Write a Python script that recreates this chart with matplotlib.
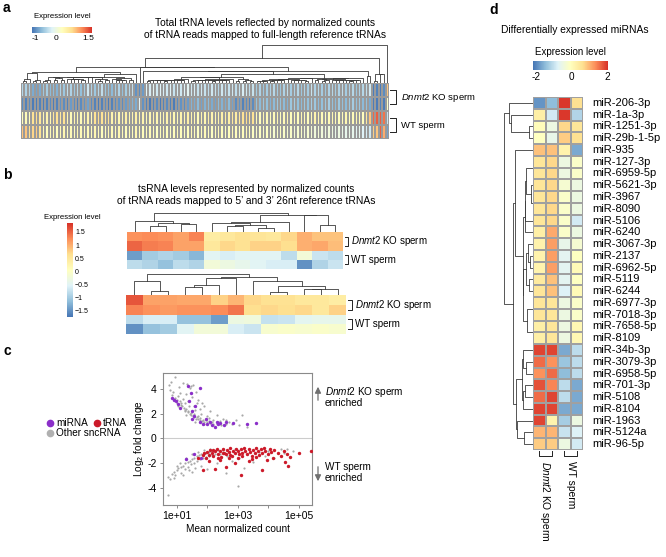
import numpy as np
import matplotlib
matplotlib.use("Agg")
import matplotlib.pyplot as plt
from matplotlib.colors import LinearSegmentedColormap, Normalize
from matplotlib.cm import ScalarMappable
from matplotlib.lines import Line2D

plt.rcParams['font.family'] = ['Liberation Sans', 'DejaVu Sans']
plt.rcParams['mathtext.fontset'] = 'custom'
plt.rcParams['mathtext.rm'] = 'Liberation Sans'
plt.rcParams['mathtext.it'] = 'Liberation Sans:italic'

# ---------------- data ----------------
# panel a: total tRNA levels, 107 tRNAs x 4 samples (KO1, KO2, WT1, WT2)
a_ko1 = ([-0.45, -0.5, -0.5, -0.8, -0.85, -0.8, -0.6, -0.55, -0.7, -0.7,
          -0.75, -0.5, -0.6, -0.4, -0.5, -0.6, -0.45, -0.65, -0.55, -0.3,
          -0.5, -0.6, -0.45, -0.4, -0.6, -0.65, -0.7, -0.55, -0.5, -0.65,
          -0.55, -0.45, -0.4, -0.95, -1.0, -0.9]
         + [-0.2, -0.25, -0.15, -0.3, -0.2, -0.25, -0.3, -0.2, -0.35, -0.25,
            -0.3, -0.2, -0.15, -0.3, -0.25, -0.35, -0.3]
         + [-0.35, -0.4, -0.3, -0.35, -0.45, -0.3, -0.4, -0.35, -0.3, -0.4,
            -0.35, -0.25, -0.3, -0.4, -0.35]
         + [-0.55, -0.5, -0.6, -0.55, -0.5, -0.45, -0.55, -0.6, -0.5, -0.4,
            -0.55, -0.5, -0.45, -0.6, -0.5, -0.55, -0.35, -0.5, -0.45, -0.55,
            -0.6, -0.5, -0.45, -0.55, -0.5, -0.4, -0.55, -0.5, -0.45, -0.6,
            -0.5, -0.45, -0.4, -0.3]
         + [-1.1, -1.05, -1.1, -1.0] + [0.9])
a_ko2 = ([-1.0, -1.05, -1.0, -1.1, -1.1, -1.05, -1.1, -1.05, -1.0, -1.1,
          -1.05, -0.95, -1.0, -1.05, -0.9, -1.0, -1.05, -1.0, -0.95, -0.85,
          -1.0, -1.05, -1.1, -1.05, -1.0, -1.1, -1.05, -1.0, -0.95, -1.0,
          -0.9, -0.85, -0.75, -0.8, -0.2, -0.95]
         + [-1.05, -1.1, -1.05, -1.0, -1.1, -1.05, -1.0, -1.05, -1.1, -1.0,
            -0.95, -1.0, -0.9]
         + [-0.75, -0.8, -0.7, -0.85, -0.75, -0.7, -0.8, -0.85, -0.7, -0.75,
            -0.8, -0.7, -0.85]
         + [-1.0, -0.95, -1.05, -1.0, -1.05, -1.0]
         + [-0.65, -0.7, -0.6, -0.65, -0.75, -0.7, -0.6, -0.65, -0.7, -0.75,
            -0.6, -0.55, -0.65, -0.7, -0.6, -0.65, -0.55, -0.6, -0.7, -0.65,
            -0.6, -0.55, -0.65, -0.7, -0.6, -0.65, -0.7, -0.6, -0.55, -0.65,
            -0.6, -0.7, -0.65, -0.8]
         + [-1.1, -1.1, -1.05, -1.1] + [0.2])
a_wt1 = ([0.3, 0.35, 0.3, 0.7, 0.75, 0.65, 0.4, 0.45, 0.4, 0.65,
          0.7, 0.6, 0.7, 0.4, 0.35, 0.45, 0.4, 0.35, 0.4, 0.45,
          0.35, 0.7, 0.75, 0.7, 0.65, 0.7, 0.45, 0.5, 0.4, 0.45,
          0.5, 0.4, 0.45, 0.5, 0.4, 0.45]
         + [0.35, 0.4, 0.45, 0.4, 0.35, 0.4, 0.45, 0.5, 0.4, 0.35,
            0.45, 0.4, 0.5, 0.45, 0.4, 0.35, 0.45, 0.4, 0.5, 0.45,
            0.4, 0.45, 0.5]
         + [0.55, 0.5, 0.6, 0.55, 0.6, 0.7, 0.75, 0.65, 0.7]
         + [0.35, 0.3, 0.4, 0.35, 0.3, 0.35, 0.4, 0.3, 0.35, 0.4,
            0.3, 0.35, 0.3, 0.4, 0.35, 0.3, 0.35, 0.45, 0.4, 0.35,
            0.3, 0.35, 0.4, 0.35, 0.3, 0.35, 0.4, 0.3, 0.35, 0.4,
            0.35, 0.3, 0.6, 0.9]
         + [1.4, 1.45, 1.45, 1.35] + [-0.35])
a_wt2 = ([0.9, 0.9, 0.75, 0.8, 0.85, 0.7, 0.35, 0.3, 0.35, 0.4,
          0.3, 0.35, 0.4, 0.3, 0.35, 0.3, 0.4, 0.35, 0.3, 0.35,
          0.3, 0.4, 0.35, 0.3, 0.3, 0.4, 0.35, 0.3, 0.4, 0.35,
          0.3, 0.35, 0.3, 0.4, 0.35, 0.3]
         + [0.3, 0.35, 0.3, 0.25, 0.3, 0.35, 0.3, 0.25, 0.3, 0.35,
            0.3, 0.25, 0.3, 0.35, 0.3, 0.25, 0.3, 0.35, 0.3, 0.25,
            0.3, 0.35, 0.3, 0.25, 0.3, 0.35, 0.3, 0.25, 0.3, 0.35,
            0.3, 0.25, 0.2, 0.25, 0.2, 0.25, 0.2, 0.15, 0.2, 0.25,
            0.2, 0.15, 0.2, 0.1, 0.15, 0.2, 0.1, 0.15, 0.1, 0.05,
            0.1, 0.05, 0.0, 0.05, 0.0, -0.05, 0.0, -0.05, -0.1, -0.05,
            -0.1, -0.15, -0.1, -0.2, -0.25, -0.3]
         + [0.85, 0.9, 1.45, 1.05] + [-0.85])

# panel b: tsRNA levels, 5' (top) and 3' (bottom) 26nt references
b5_ko1 = [1.2, 1.25, 1.2, 1.1, 1.3, 0.4, 0.5, 0.6, 0.55, 0.5, 0.7, 1.0, 0.85, 0.85]
b5_ko2 = [1.5, 1.35, 1.3, 1.1, 1.1, 0.5, 0.7, 0.6, 0.75, 0.75, 0.65, 1.0, 1.05, 0.9]
b5_wt1 = [-1.4, -1.0, -0.9, -1.0, -1.2, -0.5, -0.6, -0.5, -0.5, -0.5, -0.8, -0.2, -0.7, -0.8]
b5_wt2 = [-0.8, -0.9, -1.1, -0.8, -0.9, -0.2, -0.3, -0.4, -0.5, -0.6, -0.6, -1.5, -0.9, -0.7]

b3_ko1 = [1.6, 1.1, 1.1, 1.05, 1.05, 0.75, 0.95, 0.7, 0.6, 0.6, 0.5, 0.5, 0.4]
b3_ko2 = [1.3, 1.2, 1.15, 1.2, 1.2, 1.25, 1.4, 0.65, 0.7, 0.65, 0.7, 0.5, 0.75]
b3_wt1 = [-0.8, -0.6, -0.6, -1.1, -1.1, -1.4, -0.3, -0.25, -0.75, -0.7, -0.45, -0.4, -0.4]
b3_wt2 = [-1.5, -1.1, -1.0, -0.5, -0.2, -0.2, -0.6, -0.7, -0.1, -0.05, -0.1, -0.05, -0.1]

# panel c: MA plot (log10 mean normalized count, log2 fold change)
other_logx = [0.75, 0.82, 0.95, 0.78, 0.88, 1.08, 1.2, 1.32, 1.42, 1.52, 1.62, 1.3, 1.5, 1.68,
              1.82, 1.2, 1.02, 0.92, 1.1, 1.0, 1.15, 1.22, 1.3, 1.25, 1.35, 1.42, 1.47, 1.52,
              1.57, 1.62, 1.7, 1.76, 1.82, 1.9, 2.0, 2.1, 2.2, 2.3, 1.4, 1.6, 1.8, 2.0, 2.2,
              2.4, 2.5, 2.7, 2.95, 3.15, 3.05, 3.3, 1.9, 2.1, 2.3, 1.65, 2.6, 2.8, 1.05, 1.3,
              1.7, 2.45, 0.85, 0.95, 1.0, 1.12, 1.18, 1.28, 1.38, 1.45, 1.55, 1.65, 1.75, 1.85,
              1.95, 2.05, 2.15, 1.6, 1.9, 2.2, 1.35, 1.55, 1.75, 2.35, 1.45, 1.1, 2.05, 2.6, 1.25,
              0.7, 0.72, 0.78, 0.85, 0.92, 1.0, 1.05, 1.12, 1.2, 1.28, 1.35, 1.42, 1.5, 1.57,
              1.65, 1.72, 1.8, 1.88, 1.95, 2.05, 2.15, 2.25, 2.35, 2.5, 0.95, 1.15, 1.25, 1.35,
              1.45, 1.55, 1.65, 1.75, 1.85, 1.95, 2.05, 2.15, 2.25, 2.4, 1.1, 1.3, 1.5, 1.7,
              1.9, 2.1, 1.2, 1.5, 2.0, 2.6, 3.2, 3.0, 3.5, 4.0, 4.4, 4.8, 3.7, 4.2, 2.8, 2.3,
              1.8, 1.6, 3.3, 2.7, 2.9, 3.6, 4.6, 1.4, 1.0, 0.9, 2.45, 2.65, 3.05, 3.9, 4.5]
other_lfc = [4.3, 4.6, 4.95, 3.95, 3.75, 4.15, 4.5, 4.4, 4.1, 4.3, 3.8, 3.6, 3.35, 3.1,
             2.9, 3.2, 3.4, 3.2, 3.0, 2.9, 2.7, 2.5, 2.4, 2.2, 2.1, 2.0, 1.9, 1.8,
             1.7, 1.6, 1.55, 1.45, 1.4, 1.35, 1.3, 1.25, 1.2, 1.15, 2.6, 2.3, 2.0, 1.8, 1.5,
             1.4, 1.6, 1.3, 1.5, 1.9, 1.1, 0.95, 2.6, 2.2, 1.9, 2.9, 1.2, 1.2, 2.6, 1.9,
             1.8, 1.05, 3.5, 3.3, 3.1, 2.85, 2.6, 2.3, 2.2, 2.05, 1.95, 1.75, 1.65, 1.5,
             1.45, 1.4, 1.35, 1.35, 1.2, 1.05, 3.0, 2.6, 2.4, 1.3, 4.25, 3.7, 1.65, 1.5, 2.9,
             -4.6, -3.1, -3.3, -2.9, -2.7, -2.6, -2.4, -2.3, -2.2, -2.0, -1.9, -1.8, -1.65, -1.55,
             -1.45, -1.35, -1.3, -1.2, -1.15, -1.1, -1.05, -1.0, -0.95, -0.95, -3.0, -2.8, -2.5, -2.3,
             -2.1, -2.0, -1.8, -1.7, -1.6, -1.5, -1.4, -1.35, -1.3, -1.25, -2.0, -1.6, -1.3, -1.1,
             -0.95, -0.9, -3.0, -2.7, -2.5, -2.8, -2.4, -3.9, -1.9, -1.0, -0.85, -1.0, -1.1, -1.6, -1.8, -2.0,
             -2.2, -2.4, -1.3, -1.1, -0.9, -0.8, -0.9, -2.55, -2.2, -3.2, -1.6, -1.45, -1.6, -1.4, -1.2]
mirna_logx = [0.85, 0.9, 0.97, 1.05, 1.1, 1.35, 1.45, 1.75, 1.4, 1.6, 1.5, 1.5, 1.75, 1.85,
              2.0, 2.1, 2.15, 2.3, 2.35, 2.4, 2.25, 2.6, 2.85, 3.3, 3.6, 1.95, 1.55, 2.55,
              1.3, 1.55, 1.8]
mirna_lfc = [3.3, 3.15, 3.0, 2.8, 2.5, 4.25, 3.7, 4.05, 3.0, 2.6, 2.2, 1.6, 1.35, 1.2,
             1.15, 1.3, 1.05, 1.35, 1.2, 1.25, 0.95, 1.3, 1.25, 1.2, 1.25, 1.6, 1.85, 1.1,
             -1.7, -1.25, -1.55]
trna_logx = [1.7, 1.85, 1.9, 2.0, 2.05, 2.1, 2.15, 2.2, 2.25, 2.3, 2.35, 2.4, 2.45, 2.5,
             2.55, 2.6, 2.65, 2.7, 2.75, 2.8, 2.85, 2.9, 2.95, 3.0, 3.05, 3.1, 3.15, 3.2,
             3.25, 3.3, 3.35, 3.4, 3.45, 3.5, 3.55, 3.6, 3.65, 3.7, 3.75, 3.8, 3.85, 3.9,
             4.0, 4.05, 4.1, 4.2, 4.3, 4.4, 4.5, 4.6, 4.7, 4.55, 4.65, 5.0, 5.4, 3.95, 3.45,
             2.25, 2.6, 3.1, 3.8, 1.85, 2.05, 2.4, 2.7, 3.0, 3.35, 2.9, 2.2, 2.5, 2.75, 3.15,
             3.6, 4.15, 2.35, 1.95]
trna_lfc = [-1.6, -1.35, -1.2, -1.1, -1.35, -0.95, -1.2, -1.4, -1.05, -0.9, -1.25, -1.0, -1.5, -0.85,
            -1.15, -1.3, -0.95, -1.1, -0.8, -1.4, -1.0, -1.2, -0.85, -1.05, -1.3, -0.9, -1.15, -0.75,
            -1.0, -1.25, -0.85, -1.1, -1.45, -0.95, -1.2, -0.8, -1.05, -1.35, -0.9, -1.15, -0.75, -1.0,
            -1.3, -0.85, -1.1, -0.95, -1.2, -1.4, -1.0, -1.3, -1.5, -1.9, -2.2, -1.2, -1.0, -1.75, -1.65,
            -2.5, -2.3, -2.95, -2.6, -2.55, -1.8, -1.75, -1.6, -1.55, -1.8, -2.0, -0.95, -1.2, -1.35, -1.45,
            -1.5, -1.55, -1.6, -1.6]

# panel d: differentially expressed miRNAs
mirna_names = ['miR-206-3p', 'miR-1a-3p', 'miR-1251-3p', 'miR-29b-1-5p', 'miR-935',
               'miR-127-3p', 'miR-6959-5p', 'miR-5621-3p', 'miR-3967', 'miR-8090',
               'miR-5106', 'miR-6240', 'miR-3067-3p', 'miR-2137', 'miR-6962-5p',
               'miR-5119', 'miR-6244', 'miR-6977-3p', 'miR-7018-3p', 'miR-7658-5p',
               'miR-8109', 'miR-34b-3p', 'miR-3079-3p', 'miR-6958-5p', 'miR-701-3p',
               'miR-5108', 'miR-8104', 'miR-1963', 'miR-5124a', 'miR-96-5p']
d_ko1 = [-1.9, 0.3, 0.0, -0.1, 0.9, 0.5, 0.5, 0.5, 0.5, 0.5, 0.5, 0.3, 0.2, 0.2, 0.2,
         0.4, 0.5, 0.5, 0.5, 0.3, 0.3, 1.9, 1.6, 1.3, 1.8, 1.6, 1.9, 1.9, 1.0, 0.8]
d_ko2 = [-1.5, -0.9, -0.5, -0.6, 0.9, 0.7, 0.7, 0.7, 0.7, 0.7, 0.7, 1.1, 1.2, 1.2, 1.2,
         0.9, 0.9, 0.5, 0.5, 0.5, 0.5, 1.9, 1.3, 1.6, 1.4, 1.9, 1.9, 0.2, 1.0, 0.8]
d_wt1 = [2.0, 2.0, 0.7, 0.8, 0.2, -0.5, -0.5, -0.3, -0.2, -0.2, -0.2, -0.2, -0.6, -0.7, -0.7,
         -0.7, -0.8, -0.5, -0.5, -0.5, -0.5, -1.7, -1.4, -1.5, -1.1, -1.1, -1.7, -1.3, -1.0, -0.5]
d_wt2 = [0.6, -1.2, 0.5, 0.6, -1.7, -0.2, -0.2, -0.5, -0.5, -0.5, -0.9, -0.5, -0.3, -0.1, 0.05,
         -0.1, 0.05, -0.2, -0.2, 0.1, 0.1, -1.1, -1.1, -1.1, -1.7, -1.7, -1.7, -0.5, -0.8, -0.9]

# ---------------- helpers ----------------
W, H = 666, 557
fig = plt.figure(figsize=(W / 100, H / 100), dpi=100)
cmap = LinearSegmentedColormap.from_list(
    'pheat', ['#4575B4', '#91BFDB', '#E0F3F8', '#FFFFBF', '#FEE090', '#FC8D59', '#D73027'])
DENDRO = '#3a3a3a'


def box(x0, y0, x1, y1):
    ax = fig.add_axes([x0 / W, 1 - y1 / H, (x1 - x0) / W, (y1 - y0) / H])
    ax.set_axis_off()
    return ax


def heat(ax, mat, norm, edge=None, lw=0.3):
    mat = np.asarray(mat)
    if edge:
        ax.pcolormesh(mat, cmap=cmap, norm=norm, edgecolors=edge, linewidth=lw)
    else:
        ax.pcolormesh(mat, cmap=cmap, norm=norm)
    ax.set_xlim(0, mat.shape[1])
    ax.set_ylim(mat.shape[0], 0)


def adjacent_links(obs):
    # average linkage, merging only neighbours so the leaf order stays as shown
    obs = np.asarray(obs, float)
    groups = [[i] for i in range(len(obs))]
    pos = [i + 0.5 for i in range(len(obs))]
    hts = [0.0] * len(obs)
    links = []
    while len(groups) > 1:
        d = [np.mean([np.linalg.norm(obs[a] - obs[b]) for a in groups[k] for b in groups[k + 1]])
             for k in range(len(groups) - 1)]
        k = int(np.argmin(d))
        h = max(d[k], hts[k], hts[k + 1])
        links.append((pos[k], hts[k], pos[k + 1], hts[k + 1], h))
        groups[k:k + 2] = [groups[k] + groups[k + 1]]
        pos[k:k + 2] = [(pos[k] + pos[k + 1]) / 2]
        hts[k:k + 2] = [h]
    return links


def dendro(ax, obs, orient='top', power=0.5):
    links = adjacent_links(obs)
    n = len(obs)
    top = max(l[4] for l in links) ** power
    for pl, hl, pr, hr, h in links:
        hl, hr, h = hl ** power, hr ** power, h ** power
        if orient == 'top':
            ax.plot([pl, pl, pr, pr], [hl, h, h, hr], color=DENDRO, lw=0.6)
        else:
            ax.plot([hl, h, h, hr], [pl, pl, pr, pr], color=DENDRO, lw=0.6)
    if orient == 'top':
        ax.set_xlim(0, n)
        ax.set_ylim(0, top * 1.02)
    else:
        ax.set_xlim(top * 1.02, 0)
        ax.set_ylim(n, 0)


def row_brackets(ax, n, length, gap, text_dx, fs):
    labels = ['$\\it{Dnmt2}$ KO sperm', 'WT sperm']
    for i, lab in enumerate(labels):
        y0, y1 = 2 * i + 0.5, 2 * i + 1.5
        x0, x1 = n + gap, n + gap + length
        ax.plot([x0, x1, x1, x0], [y0, y0, y1, y1], color='#222222', lw=0.7, clip_on=False)
        ax.text(n + text_dx, 2 * i + 1, lab, fontsize=fs, va='center', ha='left')


def colorbar(x0, y0, x1, y1, norm, ticks, labels, orient, fs):
    cax = fig.add_axes([x0 / W, 1 - y1 / H, (x1 - x0) / W, (y1 - y0) / H])
    cb = fig.colorbar(ScalarMappable(norm=norm, cmap=cmap), cax=cax, orientation=orient, ticks=ticks)
    cb.outline.set_visible(False)
    cb.ax.tick_params(length=0, labelsize=fs, pad=1.5)
    if orient == 'horizontal':
        cb.ax.set_xticklabels(labels)
    else:
        cb.ax.set_yticklabels(labels)
    return cb


# ---------------- panel a ----------------
fig.text(3 / W, 1 - 8 / H, 'a', fontsize=10, fontweight='bold', va='center')
fig.text(265 / W, 1 - 29 / H,
         'Total tRNA levels reflected by normalized counts\nof tRNA reads mapped to full-length reference tRNAs',
         fontsize=7.4, ha='center', va='center', linespacing=1.25)
fig.text(62 / W, 1 - 17 / H, 'Expression level', fontsize=5.6, ha='center', va='center')
norm_a = Normalize(-1.15, 1.7)
colorbar(32, 27, 92, 33, norm_a, [-1, 0, 1.5], ['-1', '0', '1.5'], 'horizontal', 6)

mat_a = np.array([a_ko1, a_ko2, a_wt1, a_wt2])
ax = box(21, 83, 389, 139)
heat(ax, mat_a, norm_a, edge='#9a9a9a', lw=0.15)
row_brackets(ax, mat_a.shape[1], 1.8, 0.3, 3.4, 6.8)
dendro(box(21, 44, 389, 83), mat_a.T, power=0.9)

# ---------------- panel b ----------------
fig.text(3 / W, 1 - 175 / H, 'b', fontsize=10, fontweight='bold', va='center')
fig.text(246 / W, 1 - 195 / H,
         'tsRNA levels represented by normalized counts\nof tRNA reads mapped to 5\u2019 and 3\u2019 26nt reference tRNAs',
         fontsize=7.4, ha='center', va='center', linespacing=1.25)
fig.text(72 / W, 1 - 218 / H, 'Expression level', fontsize=5.6, ha='center', va='center')
norm_b = Normalize(-1.73, 1.84)
colorbar(67, 223, 73, 317, norm_b, [-1.5, -1, -0.5, 0, 0.5, 1, 1.5],
         ['\u22121.5', '\u22121', '\u22120.5', '0', '0.5', '1', '1.5'], 'vertical', 5)

mat_b5 = np.array([b5_ko1, b5_ko2, b5_wt1, b5_wt2])
ax = box(127, 232, 343, 269)
heat(ax, mat_b5, norm_b)
row_brackets(ax, mat_b5.shape[1], 0.22, 0.12, 0.55, 7)
dendro(box(127, 213, 343, 232), mat_b5.T, power=0.7)

mat_b3 = np.array([b3_ko1, b3_ko2, b3_wt1, b3_wt2])
ax = box(126, 295, 346, 334)
heat(ax, mat_b3, norm_b)
row_brackets(ax, mat_b3.shape[1], 0.22, 0.12, 0.55, 7)
dendro(box(126, 274, 346, 295), mat_b3.T, power=0.7)

# ---------------- panel c ----------------
fig.text(3 / W, 1 - 351 / H, 'c', fontsize=10, fontweight='bold', va='center')
ax = fig.add_axes([163 / W, 1 - 505 / H, 149 / W, 132 / H])
ax.axhline(0, color='#cccccc', lw=0.8, zorder=0)
ax.scatter(10 ** np.array(other_logx), other_lfc, s=2.5, color='#a8a8a8', lw=0, zorder=2)
ax.scatter(10 ** np.array(mirna_logx), mirna_lfc, s=6, color='#8b2fc9', lw=0, zorder=3)
ax.scatter(10 ** np.array(trna_logx), trna_lfc, s=6, color='#cc1a2a', lw=0, zorder=3)
ax.set_xscale('log')
ax.set_xlim(3.5, 2.7e5)
ax.set_ylim(-5.4, 5.3)
ax.set_xticks([10, 100, 1e3, 1e4, 1e5])
ax.set_xticklabels(['1e+01', '', '1e+03', '', '1e+05'])
ax.xaxis.set_minor_locator(matplotlib.ticker.NullLocator())
ax.set_yticks([-4, -2, 0, 2, 4])
ax.set_yticklabels(['-4', '-2', '0', '2', '4'])
ax.tick_params(labelsize=7.5, length=2.5, width=0.6, color='#777777', pad=2)
for s in ax.spines.values():
    s.set_color('#8a8a8a')
    s.set_linewidth(0.8)
ax.set_xlabel('Mean normalized count', fontsize=7.2, labelpad=2)
ax.set_ylabel('Log$_2$ fold change', fontsize=7.2, labelpad=1)

# legend
for (lx, ly, col, lab) in [(50, 423, '#8b2fc9', 'miRNA'), (97, 423, '#cc1a2a', 'tRNA'),
                           (50, 433, '#b0b0b0', 'Other sncRNA')]:
    fig.add_artist(Line2D([lx / W], [1 - ly / H], marker='o', markersize=4.5, color=col,
                          transform=fig.transFigure, lw=0))
    fig.text((lx + 6) / W, 1 - ly / H, lab, fontsize=7.2, va='center')

ax.annotate('', xy=(318, H - 384), xytext=(318, H - 403), xycoords='figure pixels',
            textcoords='figure pixels',
            arrowprops=dict(arrowstyle='-|>', color='#707070', lw=0.9, mutation_scale=9))
ax.annotate('', xy=(318, H - 484), xytext=(318, H - 464), xycoords='figure pixels',
            textcoords='figure pixels',
            arrowprops=dict(arrowstyle='-|>', color='#707070', lw=0.9, mutation_scale=9))
fig.text(325 / W, 1 - 392 / H, '$\\it{Dnmt2}$ KO sperm', fontsize=7.2, va='center')
fig.text(325 / W, 1 - 403 / H, 'enriched', fontsize=7.2, va='center')
fig.text(325 / W, 1 - 467 / H, 'WT sperm', fontsize=7.2, va='center')
fig.text(325 / W, 1 - 478 / H, 'enriched', fontsize=7.2, va='center')

# ---------------- panel d ----------------
fig.text(489 / W, 1 - 10 / H, 'd', fontsize=10, fontweight='bold', va='center')
fig.text(575 / W, 1 - 30 / H, 'Differentially expressed miRNAs', fontsize=7.4, ha='center', va='center')
fig.text(570 / W, 1 - 52 / H, 'Expression level', fontsize=7, ha='center', va='center')
norm_d = Normalize(-2.2, 2.05)
colorbar(533, 61, 608, 70, norm_d, [-2, 0, 2], ['-2', '0', '2'], 'horizontal', 7.2)

mat_d = np.array([d_ko1, d_ko2, d_wt1, d_wt2]).T
ax = box(533, 97, 583, 450)
heat(ax, mat_d, norm_d, edge='#a0a0a0', lw=0.3)
for i, name in enumerate(mirna_names):
    ax.text(4.75, i + 0.5, name, fontsize=8, va='center', ha='left')
for j, lab in enumerate(['$\\it{Dnmt2}$ KO sperm', 'WT sperm']):
    x0, x1 = 2 * j + 0.5, 2 * j + 1.5
    n = mat_d.shape[0]
    ax.plot([x0, x0, x1, x1], [n + 0.1, n + 0.55, n + 0.55, n + 0.1], color='#222222', lw=0.7,
            clip_on=False)
    ax.text(2 * j + 1, n + 0.9, lab, fontsize=7.4, rotation=-90, ha='center', va='top')
dendro(box(503, 97, 533, 450), mat_d, orient='left', power=0.7)

fig.savefig('out.png', dpi=100)
